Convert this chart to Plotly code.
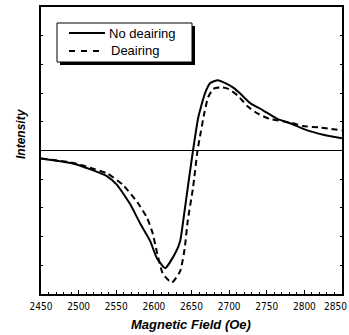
import plotly.graph_objects as go

# Data (field in Oe, intensity in arbitrary units)
field_no = [2450, 2492, 2515, 2538, 2551, 2568, 2582, 2595, 2604, 2615, 2628, 2635,
            2639, 2645, 2652, 2659, 2668, 2675, 2685, 2695, 2705, 2714, 2728, 2745,
            2764, 2781, 2804, 2825, 2850]
int_no = [-0.056, -0.09, -0.13, -0.18, -0.24, -0.37, -0.51, -0.63, -0.75, -0.82, -0.72, -0.63,
          -0.49, -0.26, 0.0, 0.23, 0.40, 0.47, 0.49, 0.47, 0.44, 0.40, 0.33, 0.28,
          0.22, 0.19, 0.14, 0.11, 0.085]

field_de = [2450, 2492, 2515, 2538, 2559, 2578, 2591, 2598, 2605, 2612, 2624, 2635,
            2641, 2645, 2652, 2658, 2661, 2667, 2672, 2679, 2691, 2699, 2712, 2724,
            2737, 2754, 2781, 2798, 2821, 2850]
int_de = [-0.056, -0.085, -0.12, -0.16, -0.24, -0.36, -0.47, -0.57, -0.73, -0.86, -0.92, -0.84,
          -0.68, -0.49, -0.26, 0.0, 0.09, 0.26, 0.37, 0.43, 0.44, 0.43, 0.38, 0.31,
          0.26, 0.22, 0.195, 0.17, 0.16, 0.14]

x_ticks = [2450, 2500, 2550, 2600, 2650, 2700, 2750, 2800]
x_ticklabels = [str(v) for v in x_ticks]
x_last_tick = 2850
series_names = ["No deairing", "Deairing"]

fig = go.Figure()
fig.add_trace(go.Scatter(x=field_no, y=int_no, mode="lines", name=series_names[0],
                         line=dict(color="black", width=2, shape="spline", smoothing=0.5)))
fig.add_trace(go.Scatter(x=field_de, y=int_de, mode="lines", name=series_names[1],
                         line=dict(color="black", width=2, dash="6px,4px", shape="spline", smoothing=0.5)))

W, H = 349, 335
L, R, T, B = 41, 7, 7, 41
pw, ph = W - L - R, H - T - B

def px(xp):
    return (xp - L) / pw

def py(yp):
    return 1 - (yp - T) / ph

tick_font = dict(size=10, family="DejaVu Sans Condensed, Liberation Sans Narrow, Liberation Sans")

shapes = [
    # legend shadow
    dict(type="rect", xref="paper", yref="paper", x0=px(60), x1=px(195), y0=py(65), y1=py(26),
         fillcolor="black", line=dict(width=0), layer="above"),
    # legend box
    dict(type="rect", xref="paper", yref="paper", x0=px(57), x1=px(192), y0=py(62), y1=py(23),
         fillcolor="white", line=dict(color="black", width=1), layer="above"),
    # legend samples
    dict(type="line", xref="paper", yref="paper", x0=px(69), x1=px(105), y0=py(33), y1=py(33),
         line=dict(color="black", width=2), layer="above"),
    dict(type="line", xref="paper", yref="paper", x0=px(69), x1=px(105), y0=py(51), y1=py(51),
         line=dict(color="black", width=2, dash="6px,6px"), layer="above"),
]

fig.update_layout(
    width=W, height=H,
    margin=dict(l=L, r=R, t=T, b=B, pad=0, autoexpand=False),
    paper_bgcolor="white", plot_bgcolor="white",
    font=dict(family="Liberation Sans, Arial, sans-serif", color="black"),
    showlegend=False,
    shapes=shapes,
    xaxis=dict(range=[2450, 2850], tickvals=x_ticks + [x_last_tick], ticktext=x_ticklabels + [""],
               ticks="inside", ticklen=4, tickwidth=1, tickcolor="black",
               minor=dict(dtick=10, ticks="inside", ticklen=2, tickcolor="black"),
               showline=True, linecolor="black", linewidth=1.8, mirror=True, automargin=False,
               showgrid=False, zeroline=False, ticklabelstandoff=2,
               tickfont=tick_font),
    yaxis=dict(range=[-1.0, 1.0], dtick=0.2, showticklabels=False, automargin=False,
               ticks="inside", ticklen=2, tickcolor="black",
               showline=True, linecolor="black", linewidth=1.5, mirror="ticks",
               showgrid=False, zeroline=True, zerolinecolor="black", zerolinewidth=1.3),
    annotations=[
        dict(text=str(x_last_tick), xref="paper", yref="paper", x=px(348.5), y=py(299),
             showarrow=False, font=tick_font, xanchor="right", yanchor="top"),
        dict(text=series_names[0], xref="paper", yref="paper", x=px(107), y=py(33),
             showarrow=False, font=dict(size=13), xanchor="left", yanchor="middle"),
        dict(text=series_names[1], xref="paper", yref="paper", x=px(109), y=py(51),
             showarrow=False, font=dict(size=13), xanchor="left", yanchor="middle"),
        dict(text="<b><i>Magnetic Field (Oe)</i></b>", xref="paper", yref="paper",
             x=px(191), y=py(324), showarrow=False, font=dict(size=13),
             xanchor="center", yanchor="middle"),
        dict(text="<b><i>Intensity</i></b>", xref="paper", yref="paper",
             x=px(21), y=py(134), showarrow=False, font=dict(size=12), textangle=-90,
             xanchor="center", yanchor="middle"),
    ],
)

fig.write_html("out.html")
